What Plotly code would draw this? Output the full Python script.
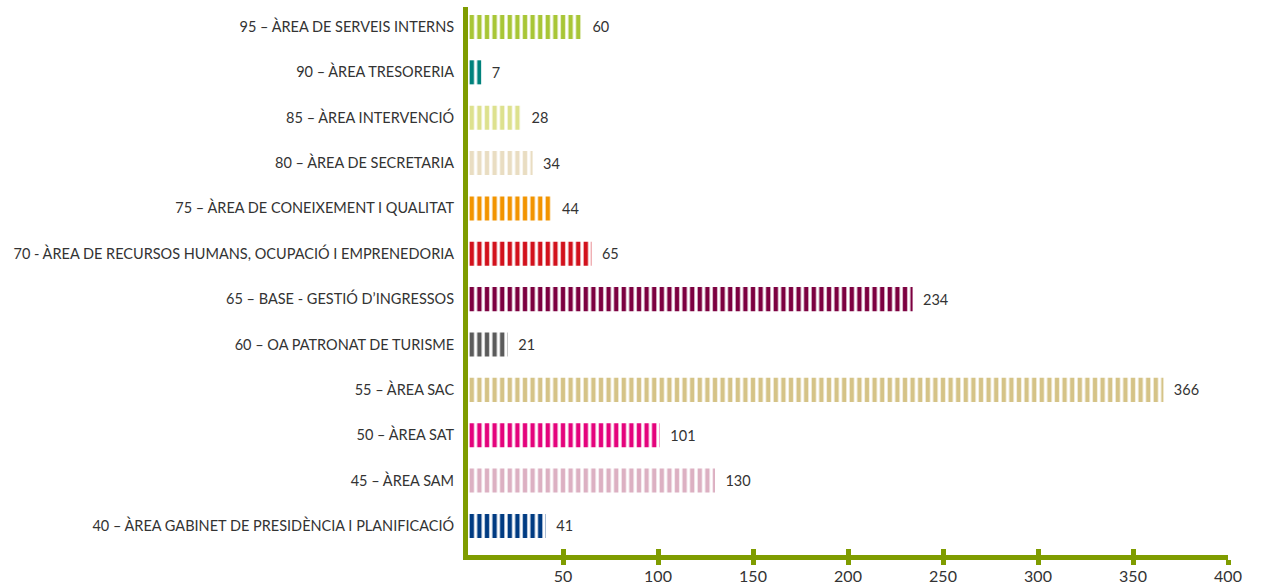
import plotly.graph_objects as go

categories = [
    "40 – ÀREA GABINET DE PRESIDÈNCIA I PLANIFICACIÓ",
    "45 – ÀREA SAM",
    "50 – ÀREA SAT",
    "55 – ÀREA SAC",
    "60 – OA PATRONAT DE TURISME",
    "65 – BASE - GESTIÓ D’INGRESSOS",
    "70 - ÀREA DE RECURSOS HUMANS, OCUPACIÓ I EMPRENEDORIA",
    "75 – ÀREA DE CONEIXEMENT I QUALITAT",
    "80 – ÀREA DE SECRETARIA",
    "85 – ÀREA INTERVENCIÓ",
    "90 – ÀREA TRESORERIA",
    "95 – ÀREA DE SERVEIS INTERNS",
]
values = [41, 130, 101, 366, 21, 234, 65, 44, 34, 28, 7, 60]
colors = ["#003b82", "#dcb0c2", "#e4037c", "#d5c387", "#5b5b5b", "#7c0040",
          "#d2111c", "#f29400", "#e9ddc2", "#dde18e", "#00827c", "#a8c636"]
x_ticks = [50, 100, 150, 200, 250, 300, 350, 400]

GREEN = "#7f9c00"
FONT = "Lato"
NB = "\u00a0"

fig = go.Figure()
fig.add_trace(go.Bar(
    y=categories,
    x=values,
    orientation="h",
    width=0.53,
    marker=dict(
        color="white",
        line=dict(width=0),
        pattern=dict(shape="|", fgcolor=colors, bgcolor="white",
                     size=7.6, solidity=0.58, fillmode="replace"),
    ),
    text=[NB * 2 + str(v) for v in values],
    textposition="outside",
    textfont=dict(family=FONT, size=14.5, color="#333333"),
    cliponaxis=False,
    hoverinfo="skip",
))
# invisible helper trace so the secondary axis (upward tick halves) is drawn
fig.add_trace(go.Scatter(x=[], y=[], xaxis="x2", yaxis="y", hoverinfo="skip",
                         showlegend=False))

fig.update_layout(
    width=1263, height=587,
    margin=dict(l=468, r=35, t=7, b=32),
    paper_bgcolor="white", plot_bgcolor="white",
    showlegend=False,
    font=dict(family=FONT, color="#333333", size=14),
    xaxis2=dict(
        overlaying="x", side="bottom", anchor="y",
        range=[0, 400], tickvals=x_ticks, showticklabels=False,
        ticks="inside", ticklen=6, tickwidth=5, tickcolor=GREEN,
        showgrid=False, zeroline=False, showline=False,
        automargin=False, fixedrange=True,
    ),
)
fig.layout.xaxis.update(
    range=[0, 400],
    tickvals=x_ticks,
    ticktext=[str(t) for t in x_ticks],
    showgrid=False, zeroline=False,
    showline=True, linecolor=GREEN, linewidth=5,
    ticks="outside", ticklen=5, tickwidth=5, tickcolor=GREEN,
    ticklabelstandoff=-2,
    tickfont=dict(family=FONT, size=16, color="#333333"),
    automargin=False,
    fixedrange=True,
)
fig.update_yaxes(
    range=[-0.64, 11.44],
    showgrid=False, zeroline=False,
    showline=True, linecolor=GREEN, linewidth=5,
    ticks="", ticklabelstandoff=6,
    tickfont=dict(family=FONT, size=14.5, color="#333333"),
    automargin=False,
    fixedrange=True,
)

fig.write_html("out.html", config={"displayModeBar": False},
               post_script="document.body.style.margin='0';")
